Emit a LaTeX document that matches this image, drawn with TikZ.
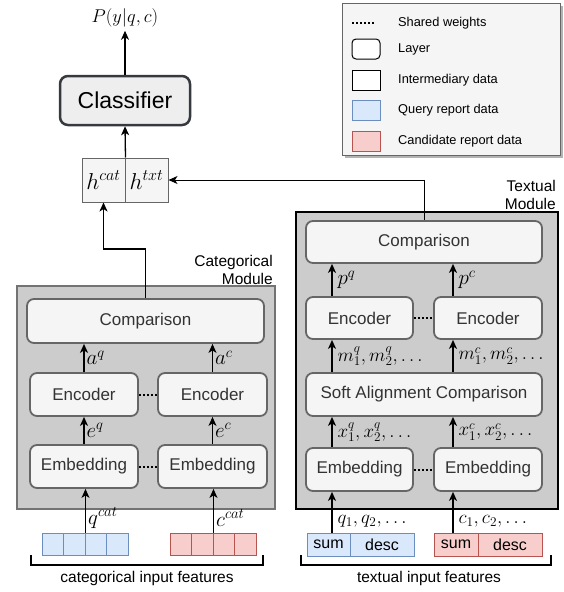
\RequirePackage{fix-cm}
\documentclass[tikz,border=0pt]{standalone}
\usepackage{fontspec}
\setmainfont{Liberation Sans}
\usetikzlibrary{arrows.meta,shadows}
\definecolor{laydraw}{HTML}{666666}
\definecolor{layfill}{HTML}{F5F5F5}
\definecolor{modfill}{HTML}{CCCCCC}
\definecolor{qfill}{HTML}{DAE8FC}
\definecolor{qdraw}{HTML}{6C8EBF}
\definecolor{cfill}{HTML}{F8CECC}
\definecolor{cdraw}{HTML}{B85450}
\definecolor{clsdraw}{HTML}{36393D}
\definecolor{clsfill}{HTML}{EEEEEE}
\begin{document}
\begin{tikzpicture}[x=1pt,y=-1pt,
  layer/.style={draw=laydraw,fill=layfill,line width=1.8pt,rounded corners=7pt,text=black!80,font=\fontsize{17}{20}\selectfont,inner sep=0pt},
  module/.style={fill=modfill,line width=1.2pt},
  arr/.style={-{Stealth[length=9pt,width=8pt,inset=2.5pt]},line width=1.3pt},
  shared/.style={line width=2pt,dash pattern=on 2pt off 2pt},
  lbl/.style={font=\fontsize{21}{23}\selectfont,inner sep=2pt},
  seq/.style={font=\fontsize{19}{21}\selectfont,inner sep=2pt,xshift=3pt},
  hcell/.style={draw=laydraw,fill=layfill,line width=1pt,minimum width=43pt,minimum height=44pt,inner sep=0pt,font=\fontsize{23}{26}\selectfont},
  qcell/.style={draw=qdraw,fill=qfill,line width=1pt,minimum height=22pt,inner sep=0pt,font=\fontsize{16}{18}\selectfont},
  ccell/.style={draw=cdraw,fill=cfill,line width=1pt,minimum height=22pt,inner sep=0pt,font=\fontsize{16}{18}\selectfont},
  note/.style={font=\fontsize{15.5}{18}\selectfont},
  leg/.style={font=\fontsize{12.8}{15}\selectfont,anchor=west,inner sep=0pt},
  legicon/.style={minimum width=28pt,minimum height=20pt,inner sep=0pt,line width=1pt}]
\useasboundingbox (0,0) rectangle (563,592);

\node[draw=laydraw,fill=layfill,line width=1pt,minimum width=218pt,minimum height=152pt,
  drop shadow={shadow xshift=3pt,shadow yshift=-3pt,fill=black!50,opacity=0.6}] (legend) at (451,79) {};
\draw[shared] (352,23) -- (375,23);
\node[legicon,draw,rounded corners=4pt,fill=white] (leglay) at (366,49) {};
\node[legicon,draw,fill=white] (legint) at (366,80) {};
\node[legicon,draw=qdraw,fill=qfill] (legq) at (366,110) {};
\node[legicon,draw=cdraw,fill=cfill] (legc) at (366,141) {};
\node[leg] at (398,23) {Shared weights};
\node[leg] at (398,49) {Layer};
\node[leg] at (398,80) {Intermediary data};
\node[leg] at (398,110) {Query report data};
\node[leg] at (398,141) {Candidate report data};

\node[font=\fontsize{18.5}{22}\selectfont] (out) at (125,18) {$P(y|q,c)$};
\node[layer,draw=clsdraw,fill=clsfill,line width=2.5pt,rounded corners=8pt,text=black,font=\fontsize{23}{26}\selectfont,minimum width=130pt,minimum height=49pt] (clf) at (125,100.5) {Classifier};
\draw[arr] (clf) -- (out);
\node[hcell] (hcat) at (103.5,180) {$h^{cat}$};
\node[hcell] (htxt) at (146.5,180) {$h^{txt}$};
\draw[arr] (hcat.north east) -- (clf.south);

\draw[module,draw=black!55] (17,286) rectangle (275,509);
\node[note,align=right,anchor=south east,inner sep=0pt] at (273,285) {Categorical\\Module};
\node[layer,minimum width=237pt,minimum height=44pt] (ccomp) at (145.5,321) {Comparison};
\node[layer,minimum width=108pt,minimum height=43pt] (cencq) at (84,394.5) {Encoder};
\node[layer,minimum width=109pt,minimum height=43pt] (cencc) at (212.5,394.5) {Encoder};
\node[layer,minimum width=108pt,minimum height=43pt] (cembq) at (84,466.5) {Embedding};
\node[layer,minimum width=109pt,minimum height=43pt] (cembc) at (212.5,466.5) {Embedding};
\draw[shared] (cencq) -- (cencc);
\draw[shared] (cembq) -- (cembc);
\draw[arr] (cembq) -- node[lbl,right]{$e^q$} (cencq);
\draw[arr] (cembc) -- node[lbl,right]{$e^c$} (cencc);
\draw[arr] (cencq) -- node[lbl,right]{$a^q$} (cencq |- ccomp.south);
\draw[arr] (cencc) -- node[lbl,right]{$a^c$} (cencc |- ccomp.south);
\foreach \i in {1,...,4} {
  \node[qcell,minimum width=21.5pt] (qc\i) at (31.25+21.5*\i,544) {};
  \node[ccell,minimum width=21.5pt] (cc\i) at (159.25+21.5*\i,544) {};
}
\draw[arr] (qc2.north east) -- node[lbl,right,pos=0.33]{$q^{cat}$} (qc2.north east |- cembq.south);
\draw[arr] (cc2.north east) -- node[lbl,right,pos=0.33]{$c^{cat}$} (cc2.north east |- cembc.south);
\draw[line width=1.2pt] (31,555) |- (263,565) -- (263,555);
\node[note] at (147,578) {categorical input features};
\draw[arr] (ccomp.north) -- ++(0,-49) -| (hcat.south);

\draw[module,draw=black] (296,212) rectangle (558,509);
\node[note,align=right,anchor=south east,inner sep=0pt] at (556,210) {Textual\\Module};
\coordinate (tq) at (332,0);
\coordinate (tc) at (453,0);
\node[layer,minimum width=236pt,minimum height=42pt] (tcomp) at (424,242) {Comparison};
\node[layer,minimum width=107pt,minimum height=42pt] (tencq) at (359.5,318) {Encoder};
\node[layer,minimum width=108pt,minimum height=42pt] (tencc) at (488,318) {Encoder};
\node[layer,minimum width=236pt,minimum height=43pt] (tsoft) at (424,394.5) {Soft Alignment Comparison};
\node[layer,minimum width=107pt,minimum height=43pt] (tembq) at (359.5,469.5) {Embedding};
\node[layer,minimum width=108pt,minimum height=43pt] (tembc) at (488,469.5) {Embedding};
\draw[shared] (tencq) -- (tencc);
\draw[shared] (tembq) -- (tembc);
\draw[arr] (tembq.north -| tq) -- node[seq,right]{$x^q_1, x^q_2, \ldots$} (tsoft.south -| tq);
\draw[arr] (tembc.north -| tc) -- node[seq,right]{$x^c_1, x^c_2, \ldots$} (tsoft.south -| tc);
\draw[arr] (tsoft.north -| tq) -- node[seq,right]{$m^q_1, m^q_2, \ldots$} (tencq.south -| tq);
\draw[arr] (tsoft.north -| tc) -- node[seq,right]{$m^c_1, m^c_2, \ldots$} (tencc.south -| tc);
\draw[arr] (tencq.north -| tq) -- node[lbl,right,xshift=3pt]{$p^q$} (tcomp.south -| tq);
\draw[arr] (tencc.north -| tc) -- node[lbl,right,xshift=3pt]{$p^c$} (tcomp.south -| tc);
\node[qcell,minimum width=43pt,minimum height=23pt] (tsumq) at (328.5,544.5) {sum};
\node[qcell,minimum width=64pt,minimum height=23pt] (tdescq) at (382,544.5) {desc};
\node[ccell,minimum width=44pt,minimum height=23pt] (tsumc) at (456,544.5) {sum};
\node[ccell,minimum width=64pt,minimum height=23pt] (tdescc) at (510,544.5) {desc};
\draw[arr] (tsumq.north -| tq) -- node[seq,right,pos=0.27]{$q_1, q_2, \ldots$} (tembq.south -| tq);
\draw[arr] (tsumc.north -| tc) -- node[seq,right,pos=0.27]{$c_1, c_2, \ldots$} (tembc.south -| tc);
\draw[line width=1.2pt] (301,555) |- (551,565) -- (551,555);
\node[note] at (429,578) {textual input features};
\draw[arr,line width=1pt] (tcomp.north) |- (htxt.east);
\end{tikzpicture}
\end{document}
